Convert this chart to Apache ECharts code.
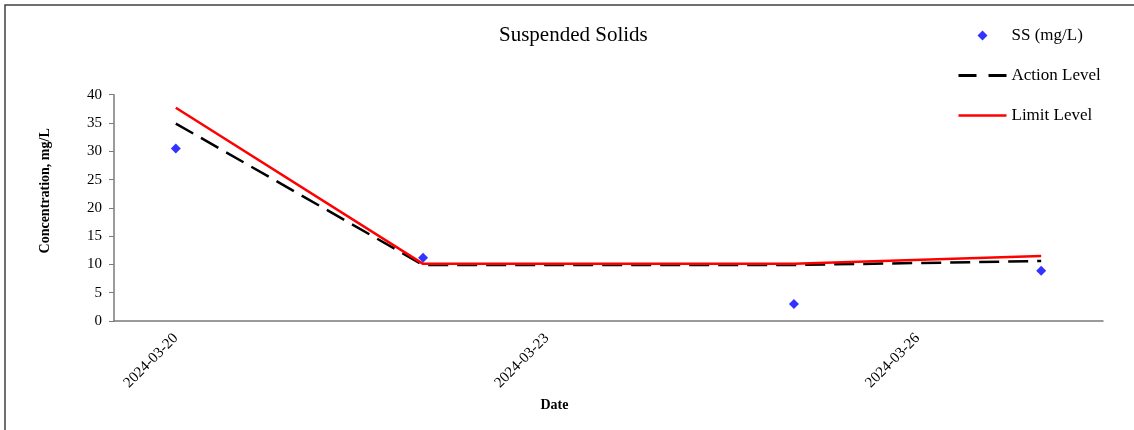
<!DOCTYPE html>
<html>
<head>
<meta charset="utf-8">
<title>Suspended Solids</title>
<script src="https://cdn.jsdelivr.net/npm/echarts@6/dist/echarts.min.js"></script>
<style>
  html, body { margin: 0; padding: 0; background: #fff; }
  #chart { width: 1134px; height: 430px; }
</style>
</head>
<body>
<div id="chart"></div>
<script>
// dates on the x axis (one category per day)
const categories = ['2024-03-20', '2024-03-21', '2024-03-22', '2024-03-23',
                    '2024-03-24', '2024-03-25', '2024-03-26', '2024-03-27'];
// measured SS, null = no sample that day
const ssValues = [30.5, null, 11.2, null, null, 3.0, null, 8.9];
const actionValues = [34.9, null, 9.9, null, null, 9.9, null, 10.6];
const limitValues = [37.7, null, 10.1, null, null, 10.1, null, 11.5];
const yTicks = { min: 0, max: 40, interval: 5 };

const FONT = 'Liberation Serif';
const chart = echarts.init(document.getElementById('chart'));

// hide the dot that line series put in the middle of their legend icon
const noDot = { color: 'rgba(0,0,0,0)', borderWidth: 0 };

const option = {
    backgroundColor: '#fff',
    animation: false,
    textStyle: { fontFamily: FONT, color: '#000' },
    title: {
        text: 'Suspended Solids',
        left: 494,
        top: 20,
        textStyle: { fontFamily: FONT, fontSize: 21, fontWeight: 'normal', color: '#000' }
    },
    legend: {
        orient: 'vertical',
        left: 952,
        top: 22,
        itemWidth: 48,
        itemHeight: 10,
        itemGap: 23,
        textStyle: { fontFamily: FONT, fontSize: 17, color: '#000' },
        data: [
            { name: 'SS (mg/L)', icon: 'path://M5,0 L10,5 L5,10 L0,5 Z' },
            { name: 'Action Level', itemStyle: noDot, lineStyle: { type: [18, 12], width: 3 } },
            { name: 'Limit Level', itemStyle: noDot, lineStyle: { width: 2.5 } }
        ]
    },
    // chart frame (only top and left edges are visible in the picture)
    graphic: [{
        type: 'rect',
        shape: { x: 5, y: 5, width: 1400, height: 800 },
        style: { fill: null, stroke: '#404040', lineWidth: 1.5 },
        silent: true
    }],
    grid: {
        left: 114,
        right: 31,
        top: 94.7,
        bottom: 109
    },
    xAxis: {
        type: 'category',
        data: categories,
        boundaryGap: true,
        name: 'Date',
        nameLocation: 'middle',
        nameGap: 77,
        nameTextStyle: {
            fontFamily: FONT, fontSize: 14, fontWeight: 'bold', color: '#000',
            padding: [0, 108, 0, 0]
        },
        axisLine: { lineStyle: { color: '#7a7a7a', width: 1.5 } },
        axisTick: { interval: 2, alignWithLabel: false, length: 4, lineStyle: { color: '#000' } },
        axisLabel: {
            interval: 2,
            rotate: 45,
            margin: 15,
            fontFamily: FONT,
            fontSize: 15,
            color: '#000'
        },
        splitLine: { show: false }
    },
    yAxis: {
        type: 'value',
        min: yTicks.min,
        max: yTicks.max,
        interval: yTicks.interval,
        name: 'Concentration, mg/L',
        nameLocation: 'middle',
        nameGap: 62,
        nameTextStyle: {
            fontFamily: FONT, fontSize: 14, fontWeight: 'bold', color: '#000',
            padding: [0, 0, 0, 34]
        },
        axisLine: { show: true, lineStyle: { color: '#7a7a7a', width: 1.5 } },
        axisTick: { show: true, length: 5, lineStyle: { color: '#7a7a7a' } },
        axisLabel: { margin: 12, fontFamily: FONT, fontSize: 15, color: '#000' },
        splitLine: { show: false }
    },
    series: [
        {
            name: 'SS (mg/L)',
            type: 'scatter',
            data: ssValues,
            symbol: 'diamond',
            symbolSize: 10,
            itemStyle: { color: '#0000ff' },
            z: 2
        },
        {
            name: 'Action Level',
            type: 'line',
            data: actionValues,
            connectNulls: true,
            symbol: 'none',
            lineStyle: { color: '#000', width: 2.5, type: [20, 9] },
            itemStyle: { color: '#000' },
            z: 3
        },
        {
            name: 'Limit Level',
            type: 'line',
            data: limitValues,
            connectNulls: true,
            symbol: 'none',
            lineStyle: { color: '#ff0000', width: 2.5 },
            itemStyle: { color: '#ff0000' },
            z: 4
        }
    ]
};

chart.setOption(option);
</script>
</body>
</html>
